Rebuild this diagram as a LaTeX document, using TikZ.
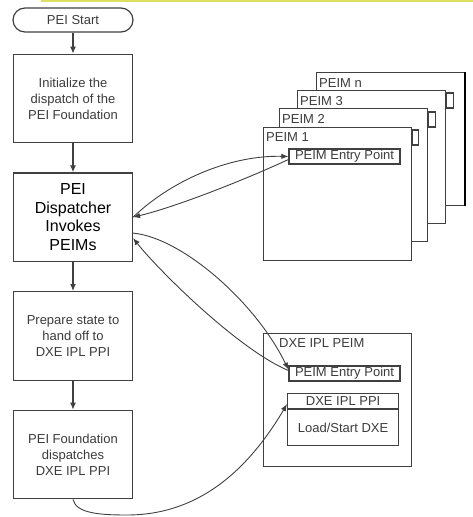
\documentclass[tikz,border=0pt]{standalone}
\usepackage{fontspec}
\setmainfont{Liberation Sans}
\usepackage{tikz}
\usetikzlibrary{arrows.meta, positioning}
\definecolor{linegray}{RGB}{64,64,64}
\definecolor{textgray}{RGB}{60,60,60}
\definecolor{topyellow}{RGB}{222,222,96}

\begin{document}
\begin{tikzpicture}[
    x=1pt, y=1pt,
    node distance=29pt,
    every node/.style={font=\fontsize{13}{16}\selectfont, text=textgray},
    proc/.style={rectangle, draw=linegray, line width=1.2pt, fill=white,
                minimum width=119pt, minimum height=88.5pt, inner sep=0pt,
                align=center},
    term/.style={rectangle, rounded corners=12pt, draw=linegray, line width=1.2pt,
                minimum width=120pt, minimum height=24pt, inner sep=0pt},
    page/.style={rectangle, draw=linegray, line width=1.2pt, fill=white,
                minimum width=148pt, minimum height=133pt, inner sep=0pt,
                anchor=north west},
    tab/.style={draw=linegray, line width=1.2pt, fill=white},
    pagename/.style={anchor=west, inner sep=0pt},
    entry/.style={rectangle, draw=linegray, line width=1.2pt, fill=white,
                minimum width=111pt, minimum height=15pt, inner sep=0pt},
    arrow/.style={-{Latex[length=7pt,width=6pt]}, draw=linegray, line width=1.2pt},
    link/.style={-{Latex[length=7pt,width=5.5pt]}, draw=linegray, line width=0.9pt}
]
    \useasboundingbox (0,0) rectangle (473,-517);
    \draw[topyellow, line width=1.6pt] (41,-0.8) -- (473,-0.8);

    % Left column - PEI Foundation flow
    \node[term] (start) at (73,-20) {PEI Start};
    \node[proc, below=21pt of start] (init) {Initialize the\\dispatch of the\\PEI Foundation};
    \node[proc, below=of init, font=\fontsize{16}{18.5}\selectfont, text=black] (dispatch) {PEI\\Dispatcher\\Invokes\\PEIMs};
    \node[proc, below=of dispatch] (prepare) {Prepare state to\\hand off to\\DXE IPL PPI};
    \node[proc, below=of prepare] (handoff) {PEI Foundation\\dispatches\\DXE IPL PPI};

    \draw[arrow] (start) -- (init);
    \draw[arrow] (init) -- (dispatch);
    \draw[arrow] (dispatch) -- (prepare);
    \draw[arrow] (prepare) -- (handoff);

    % Stack of PEIMs
    \node[page] (peimn) at (316,-72) {};
    \draw[line width=2.4pt, black] (peimn.north east) -- (peimn.south east);
    \node[page] (peim3) at (297,-90) {};
    \draw[tab] ([yshift=-3pt]peim3.north east) rectangle ++(7,-15);
    \node[page] (peim2) at (279,-108) {};
    \draw[tab] ([yshift=-4pt]peim2.north east) rectangle ++(7,-15);
    \node[page] (peim1) at (263,-127) {};
    \draw[tab] ([yshift=-3pt]peim1.north east) rectangle ++(6,-15);

    \node[pagename] at ([xshift=3pt,yshift=-11pt]peimn.north west) {PEIM n};
    \node[pagename] at ([xshift=3pt,yshift=-11pt]peim3.north west) {PEIM 3};
    \node[pagename] at ([xshift=3pt,yshift=-11pt]peim2.north west) {PEIM 2};
    \node[pagename] at ([xshift=3pt,yshift=-10pt]peim1.north west) {PEIM 1};
    \node[entry] (entry1) at (344.5,-156.5) {PEIM Entry Point};

    % DXE IPL PEIM
    \node[page] (dxe) at (263,-333) {};
    \node[pagename] at ([xshift=16pt,yshift=-10.5pt]dxe.north west) {DXE IPL PEIM};
    \node[entry] (entry2) at (344.5,-373.5) {PEIM Entry Point};
    \node[entry, anchor=north west] (ppi) at (287,-393) {DXE IPL PPI};
    \node[entry, below=0pt of ppi, minimum height=36pt] (load) {Load/Start DXE};

    % Calls and returns
    \draw[link] (dispatch.east) .. controls +(42,40) and +(-54,1.5) .. (entry1.west);
    \draw[link] ([yshift=-3pt]entry1.west) .. controls +(-44,-20.5) and +(42,10) .. (dispatch.east);
    \draw[link] ([yshift=-16pt]dispatch.east) .. controls +(47,-4) and +(-34,69.5) .. ([yshift=4pt]entry2.west);
    \draw[link] ([yshift=3pt]entry2.west) .. controls +(-49,20.5) and +(27,-34) .. ([yshift=-21pt]dispatch.east);

    \coordinate (low) at (127,-515);
    \draw[link] (handoff.south) .. controls +(3,-14) and +(-27,0) .. (low)
        .. controls +(53,0) and +(-51,-86.5) .. ([yshift=-3pt]ppi.west);
\end{tikzpicture}
\end{document}
